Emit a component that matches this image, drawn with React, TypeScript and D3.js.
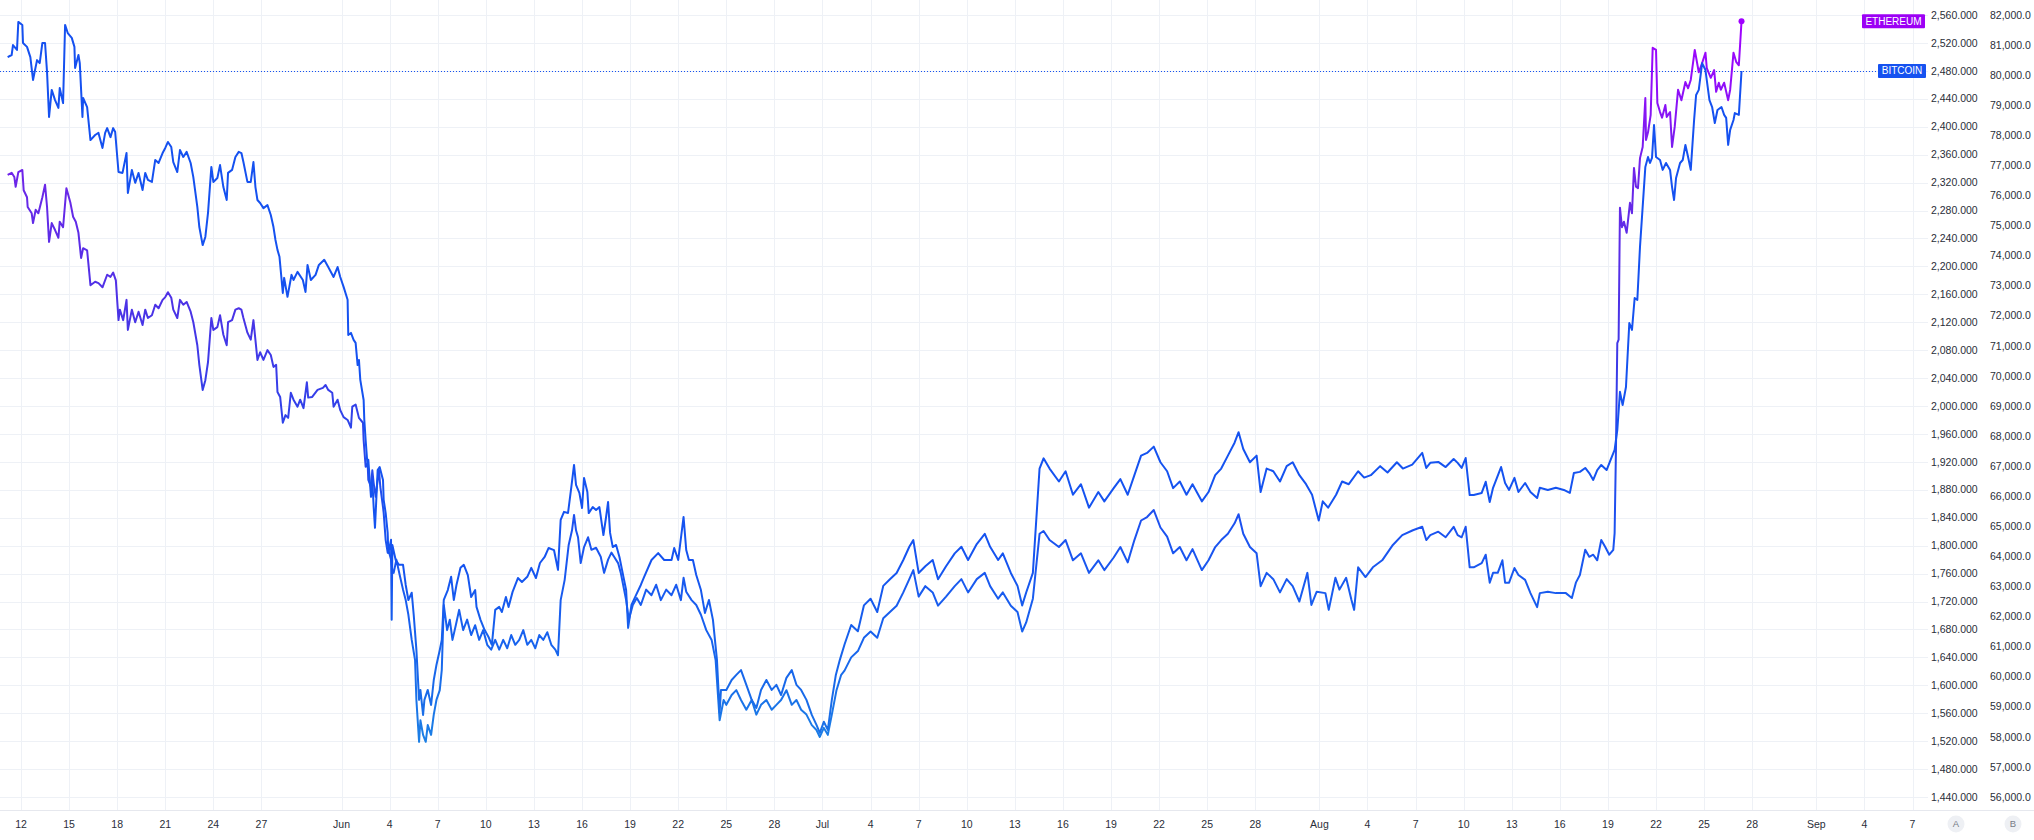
import React from "react";
import * as d3 from "d3";

const W = 2034;
const H = 840;
const START = Date.UTC(2024, 4, 12); // series times are hours from 12 May 00:00 UTC

// [hour offset, price]
const ETH: [number, number][] = [
[-20,2331],[-14,2334],[-10,2328],[-8,2314],[-4,2335],[2,2338],[4,2309],[9,2299],[10,2285],[16,2276],[18,2262],[22,2281],[26,2276],[32,2299],[36,2317],[39,2285],[42,2235],[46,2262],[51,2252],[56,2241],[58,2264],[63,2256],[68,2312],[74,2291],[78,2271],[82,2264],[86,2248],[90,2212],[93,2226],[99,2223],[104,2173],[111,2178],[116,2176],[122,2170],[129,2188],[134,2185],[138,2191],[142,2180],[146,2123],[148,2138],[153,2123],[158,2152],[160,2109],[166,2138],[171,2120],[176,2135],[182,2116],[186,2138],[190,2126],[196,2130],[201,2145],[206,2140],[212,2152],[216,2156],[220,2163],[225,2155],[228,2138],[234,2126],[238,2152],[243,2145],[248,2149],[254,2135],[258,2120],[264,2087],[267,2059],[272,2023],[276,2037],[280,2063],[285,2126],[288,2109],[294,2113],[298,2130],[303,2102],[308,2087],[310,2120],[316,2123],[321,2138],[326,2140],[330,2138],[333,2126],[339,2105],[344,2095],[348,2123],[354,2066],[358,2077],[363,2066],[369,2080],[374,2073],[378,2056],[382,2059],[384,2020],[388,2013],[392,1976],[396,1987],[400,1983],[404,2019],[408,2009],[414,1999],[418,2009],[423,1997],[428,2034],[430,2012],[436,2013],[444,2023],[452,2026],[456,2030],[460,2023],[466,2019],[468,1999],[474,2009],[478,1994],[483,1984],[489,1980],[494,1969],[496,1999],[501,2002],[506,1983],[512,1976],[513,1951],[516,1913],[519,1918],[520,1894],[524,1884],[526,1908],[528,1890],[531,1870],[534,1894],[536,1908],[538,1884],[542,1855],[543,1847],[546,1808],[549,1790],[550,1794],[554,1780],[556,1765],[558,1761],[562,1780],[567,1758],[572,1737],[576,1722],[580,1701],[585,1665],[590,1636],[592,1579],[596,1519],[598,1550],[602,1529],[606,1519],[609,1543],[614,1529],[618,1558],[622,1579],[627,1593],[630,1622],[633,1715],[638,1679],[642,1694],[646,1665],[651,1686],[656,1708],[662,1679],[668,1694],[674,1672],[680,1686],[686,1665],[692,1679],[698,1658],[704,1651],[710,1665],[716,1651],[722,1665],[728,1653],[734,1672],[740,1658],[746,1665],[752,1679],[758,1658],[764,1665],[770,1653],[776,1672],[782,1665],[788,1676],[794,1658],[800,1651],[804,1643],[808,1722],[814,1751],[820,1801],[825,1822],[828,1844],[831,1822],[834,1812],[838,1775],[843,1798],[849,1812],[854,1794],[861,1797],[868,1784],[873,1761],[879,1780],[884,1790],[888,1784],[894,1775],[898,1761],[906,1722],[910,1694],[916,1715],[922,1725],[928,1715],[936,1737],[944,1729],[951,1744],[958,1722],[966,1737],[974,1729],[981,1744],[988,1722],[992,1754],[996,1734],[1004,1722],[1011,1715],[1018,1701],[1026,1679],[1034,1665],[1040,1636],[1046,1550],[1052,1579],[1056,1572],[1064,1586],[1071,1593],[1078,1579],[1086,1565],[1094,1579],[1101,1558],[1108,1572],[1116,1579],[1124,1565],[1131,1572],[1138,1579],[1146,1593],[1154,1572],[1161,1579],[1168,1565],[1176,1558],[1184,1543],[1191,1536],[1196,1526],[1202,1539],[1208,1529],[1214,1558],[1221,1593],[1228,1615],[1233,1621],[1243,1640],[1253,1649],[1262,1668],[1272,1677],[1282,1668],[1291,1696],[1301,1705],[1311,1714],[1321,1733],[1330,1752],[1336,1765],[1344,1727],[1354,1742],[1365,1733],[1373,1714],[1385,1727],[1398,1742],[1408,1752],[1418,1733],[1431,1752],[1443,1761],[1451,1742],[1463,1724],[1470,1733],[1482,1714],[1492,1705],[1499,1677],[1505,1690],[1515,1724],[1525,1817],[1531,1821],[1540,1808],[1554,1798],[1564,1808],[1575,1779],[1587,1789],[1599,1761],[1613,1779],[1622,1765],[1636,1783],[1646,1798],[1657,1776],[1667,1808],[1677,1836],[1686,1841],[1696,1851],[1706,1826],[1716,1813],[1725,1789],[1735,1798],[1745,1779],[1754,1795],[1768,1765],[1778,1779],[1788,1798],[1797,1808],[1807,1817],[1817,1832],[1823,1845],[1830,1817],[1840,1798],[1850,1789],[1856,1742],[1865,1761],[1875,1752],[1885,1733],[1895,1752],[1904,1742],[1914,1720],[1926,1761],[1932,1715],[1940,1734],[1953,1732],[1958,1708],[1968,1754],[1974,1737],[1984,1754],[1992,1722],[1996,1708],[2002,1769],[2013,1755],[2024,1769],[2038,1779],[2054,1801],[2068,1815],[2084,1822],[2098,1827],[2104,1808],[2110,1815],[2122,1820],[2133,1812],[2145,1827],[2151,1815],[2157,1812],[2163,1827],[2169,1769],[2175,1769],[2187,1775],[2193,1787],[2199,1747],[2204,1761],[2211,1761],[2218,1779],[2222,1747],[2228,1747],[2236,1768],[2242,1758],[2252,1751],[2260,1732],[2270,1712],[2274,1732],[2286,1734],[2298,1732],[2313,1732],[2322,1725],[2328,1747],[2334,1758],[2342,1794],[2348,1784],[2354,1787],[2360,1779],[2366,1808],[2372,1798],[2378,1787],[2384,1794],[2386,1818],[2388,1937],[2390,2090],[2392,2095],[2394,2284],[2397,2256],[2400,2264],[2404,2248],[2409,2291],[2412,2276],[2415,2341],[2418,2314],[2421,2312],[2424,2355],[2428,2371],[2432,2441],[2433,2381],[2436,2392],[2440,2417],[2443,2513],[2448,2510],[2450,2434],[2454,2421],[2457,2413],[2462,2431],[2464,2414],[2469,2421],[2472,2371],[2476,2400],[2481,2453],[2486,2438],[2492,2464],[2496,2455],[2500,2467],[2506,2510],[2512,2478],[2517,2491],[2522,2506],[2524,2484],[2530,2470],[2535,2481],[2538,2450],[2542,2463],[2545,2453],[2550,2463],[2556,2438],[2559,2453],[2564,2506],[2568,2493],[2572,2488],[2576,2551]
];

const BTC: [number, number][] = [
[-20,80600],[-14,80670],[-12,81000],[-6,80840],[-4,81770],[2,81670],[3,81070],[9,80940],[14,80600],[18,79840],[24,80500],[28,80400],[32,81070],[36,81070],[39,80100],[42,78610],[46,79510],[51,79170],[56,78910],[58,79570],[63,79070],[66,81670],[70,81400],[76,81240],[80,80940],[81,80240],[86,80670],[88,80400],[92,78610],[93,79240],[99,78940],[104,77840],[111,78010],[116,78080],[122,77580],[126,78080],[129,78240],[134,77940],[138,78240],[141,78110],[146,76780],[152,76750],[158,77410],[160,76080],[166,76850],[171,76420],[176,76750],[182,76180],[186,76750],[190,76520],[196,76450],[201,77180],[206,77080],[212,77410],[216,77580],[220,77780],[225,77610],[228,77110],[234,76780],[238,77510],[243,77280],[248,77450],[254,77080],[258,76610],[264,75620],[267,74950],[272,74350],[276,74620],[280,75420],[285,76950],[288,76450],[294,76580],[298,77010],[303,76280],[308,75850],[310,76750],[316,76850],[321,77280],[326,77450],[330,77410],[333,77110],[339,76450],[344,76450],[348,77110],[351,76280],[354,75850],[358,75750],[363,75580],[369,75680],[374,75350],[378,74950],[381,74520],[384,74190],[387,73960],[392,72760],[394,73260],[399,72630],[405,73360],[408,73190],[414,73460],[422,73190],[426,72790],[429,73690],[434,73190],[441,73360],[446,73690],[454,73860],[460,73620],[468,73290],[474,73620],[478,73290],[483,72960],[489,72530],[490,71360],[494,71430],[498,71200],[501,71100],[504,70360],[506,70530],[508,69870],[513,69200],[514,68540],[516,67870],[519,66970],[520,67210],[524,65980],[526,66540],[528,65640],[530,64950],[534,66870],[537,66970],[542,66540],[543,65880],[546,65440],[549,64780],[550,64110],[554,64550],[555,61890],[556,64380],[561,63880],[566,63720],[572,63720],[576,63050],[580,62550],[585,62790],[588,62050],[592,60890],[596,59230],[598,59560],[602,58730],[604,59230],[609,59560],[614,59060],[618,59890],[622,60390],[627,60890],[630,61220],[633,62550],[639,62880],[644,63320],[648,62550],[652,63050],[658,63620],[663,63720],[669,63380],[674,62650],[680,62880],[682,62320],[688,61890],[694,61560],[700,61320],[705,61060],[710,62220],[716,62320],[720,62150],[726,62650],[730,62320],[736,62820],[744,63280],[750,63150],[758,63320],[764,63620],[771,63280],[777,63780],[784,63980],[790,64280],[798,64210],[804,63550],[808,65210],[813,65480],[819,65440],[824,66310],[828,67040],[831,66380],[836,66110],[840,65610],[843,66610],[848,66140],[850,65440],[856,65640],[861,65540],[866,65640],[872,64710],[876,65310],[879,65810],[882,64780],[886,64310],[891,64380],[896,63980],[902,63320],[906,62880],[909,61620],[914,62390],[921,62720],[928,63050],[933,63320],[944,63880],[954,64110],[963,63880],[974,63880],[978,64280],[984,63880],[992,65310],[996,64210],[1000,63880],[1006,63880],[1011,63380],[1018,62880],[1024,62120],[1030,62550],[1036,61890],[1042,60560],[1046,58800],[1048,59560],[1056,59560],[1064,59890],[1071,60060],[1078,60220],[1086,59730],[1094,59230],[1101,58960],[1108,59560],[1116,59890],[1124,59560],[1131,59730],[1138,59390],[1146,59960],[1154,60220],[1161,59730],[1168,59560],[1176,59230],[1184,58730],[1191,58400],[1196,58130],[1202,58500],[1208,58230],[1214,59230],[1220,60060],[1226,60560],[1233,61070],[1243,61720],[1253,61510],[1262,62370],[1272,62590],[1282,62150],[1291,63020],[1301,63240],[1311,63450],[1321,63880],[1330,64320],[1336,64540],[1344,63450],[1354,63670],[1365,63880],[1373,63240],[1385,63670],[1398,64100],[1408,64320],[1418,63880],[1431,64410],[1443,64750],[1451,64320],[1463,63880],[1470,64100],[1482,63450],[1492,63020],[1499,62370],[1505,62800],[1515,63450],[1525,66920],[1531,67260],[1540,66920],[1554,66490],[1564,66830],[1575,66050],[1587,66400],[1599,65620],[1613,66140],[1622,65830],[1636,66270],[1646,66570],[1657,66050],[1667,66700],[1677,67350],[1686,67440],[1696,67650],[1706,67130],[1716,66830],[1725,66270],[1735,66490],[1745,66050],[1754,66400],[1768,65830],[1778,66140],[1788,66700],[1797,66920],[1807,67350],[1817,67780],[1823,68130],[1830,67570],[1840,67130],[1850,67350],[1856,66140],[1865,66920],[1875,66830],[1885,66490],[1895,67000],[1904,67130],[1914,66700],[1924,66400],[1933,66050],[1943,65190],[1949,65830],[1957,65620],[1969,66050],[1978,66490],[1988,66400],[2002,66830],[2011,66620],[2021,66700],[2035,67000],[2046,66790],[2060,67130],[2069,66920],[2083,67050],[2098,67440],[2104,66940],[2110,67110],[2122,67140],[2133,66970],[2145,67240],[2151,67110],[2157,66940],[2163,67270],[2169,66040],[2175,66040],[2187,66110],[2193,66480],[2199,65810],[2204,66280],[2216,66970],[2222,66440],[2228,66210],[2236,66610],[2242,66140],[2252,66440],[2260,66140],[2270,65940],[2274,66280],[2286,66210],[2298,66280],[2310,66210],[2319,66110],[2325,66770],[2334,66810],[2342,66940],[2348,66770],[2354,66540],[2360,66870],[2366,67040],[2374,66870],[2380,67210],[2386,67540],[2390,68200],[2394,69470],[2398,69030],[2403,69630],[2408,71760],[2412,71530],[2416,72590],[2420,72530],[2424,74290],[2427,75290],[2432,76950],[2436,77280],[2439,77080],[2442,77250],[2445,78340],[2448,77280],[2454,77180],[2458,76850],[2463,77080],[2469,76850],[2472,76280],[2475,75850],[2478,76580],[2484,77080],[2488,77180],[2492,77680],[2496,77280],[2500,76850],[2505,78510],[2508,79340],[2512,79510],[2517,80400],[2522,80170],[2528,79170],[2532,78940],[2536,78410],[2540,78840],[2546,78940],[2550,78680],[2553,78580],[2556,77680],[2559,78180],[2564,78510],[2566,78740],[2572,78680],[2576,80140]
];

const ETH_TICKS = [1440,1480,1520,1560,1600,1640,1680,1720,1760,1800,1840,1880,1920,1960,2000,2040,2080,2120,2160,2200,2240,2280,2320,2360,2400,2440,2480,2520,2560];
const BTC_TICKS = [56000,57000,58000,59000,60000,61000,62000,63000,64000,65000,66000,67000,68000,69000,70000,71000,72000,73000,74000,75000,76000,77000,78000,79000,80000,81000,82000];
const X_TICKS = [
"2024-05-12","2024-05-15","2024-05-18","2024-05-21","2024-05-24","2024-05-27",
"2024-06-01","2024-06-04","2024-06-07","2024-06-10","2024-06-13","2024-06-16","2024-06-19","2024-06-22","2024-06-25","2024-06-28",
"2024-07-01","2024-07-04","2024-07-07","2024-07-10","2024-07-13","2024-07-16","2024-07-19","2024-07-22","2024-07-25","2024-07-28",
"2024-08-01","2024-08-04","2024-08-07","2024-08-10","2024-08-13","2024-08-16","2024-08-19","2024-08-22","2024-08-25","2024-08-28",
"2024-09-01","2024-09-04","2024-09-07"
];

const PLOT_RIGHT = 1928;
const PLOT_BOTTOM = 810;
const FONT = "'Liberation Sans', Arial, sans-serif";

export default function App() {
  const x = d3
    .scaleUtc()
    .domain([new Date(Date.UTC(2024, 4, 12)), new Date(Date.UTC(2024, 8, 7))])
    .range([21, 1912.5]);
  const yEth = d3.scaleLinear().domain([1440, 2560]).range([797, 15]);
  const yBtc = d3.scaleLinear().domain([56000, 82000]).range([797, 15]);
  const t = (h: number) => new Date(START + h * 3600000);

  const ethLine = d3
    .line<[number, number]>()
    .x((d) => x(t(d[0])))
    .y((d) => yEth(d[1]));
  const btcLine = d3
    .line<[number, number]>()
    .x((d) => x(t(d[0])))
    .y((d) => yBtc(d[1]));

  const fmtA = d3.format(",.3f");
  const fmtB = d3.format(",.1f");
  const monthFmt = d3.utcFormat("%b");

  const ethLast = ETH[ETH.length - 1];
  const btcLast = BTC[BTC.length - 1];
  const ethLastY = yEth(ethLast[1]);
  const btcLastY = yBtc(btcLast[1]);

  return (
    <svg
      width={W}
      height={H}
      style={{ position: "absolute", left: 0, top: 0, background: "#fff" }}
      fontFamily={FONT}
    >
      <defs>
        <linearGradient id="ethGrad" gradientUnits="userSpaceOnUse" x1="0" y1="15" x2="0" y2="797">
          <stop offset="0" stopColor="#a300ff" />
          <stop offset="0.1" stopColor="#8e0ff8" />
          <stop offset="0.22" stopColor="#6a27e8" />
          <stop offset="0.38" stopColor="#4a33e6" />
          <stop offset="0.52" stopColor="#2e43ea" />
          <stop offset="0.66" stopColor="#1b52f0" />
          <stop offset="0.8" stopColor="#1762ee" />
          <stop offset="1" stopColor="#1e8fe0" />
        </linearGradient>
        <linearGradient id="btcGrad" gradientUnits="userSpaceOnUse" x1="0" y1="15" x2="0" y2="797">
          <stop offset="0" stopColor="#1550f0" />
          <stop offset="0.7" stopColor="#1553f0" />
          <stop offset="1" stopColor="#1b7ce4" />
        </linearGradient>
      </defs>

      {/* grid */}
      <g stroke="#eef1f6" strokeWidth={1}>
        {ETH_TICKS.map((v) => (
          <line key={"h" + v} x1={0} x2={PLOT_RIGHT} y1={Math.round(yEth(v)) + 0.5} y2={Math.round(yEth(v)) + 0.5} />
        ))}
        {X_TICKS.map((s) => {
          const xx = Math.round(x(new Date(s + "T00:00:00Z"))) + 0.5;
          return <line key={"v" + s} x1={xx} x2={xx} y1={0} y2={PLOT_BOTTOM} />;
        })}
      </g>
      <line x1={0} x2={W} y1={PLOT_BOTTOM + 0.5} y2={PLOT_BOTTOM + 0.5} stroke="#e6e8ee" />

      {/* BTC price line */}
      <line
        x1={0}
        x2={PLOT_RIGHT - 2}
        y1={Math.round(btcLastY) + 0.5}
        y2={Math.round(btcLastY) + 0.5}
        stroke="#1652f0"
        strokeWidth={1}
        strokeDasharray="1 2"
      />

      {/* series */}
      <path d={ethLine(ETH) ?? ""} fill="none" stroke="url(#ethGrad)" strokeWidth={2} strokeLinejoin="round" />
      <path d={btcLine(BTC) ?? ""} fill="none" stroke="url(#btcGrad)" strokeWidth={2} strokeLinejoin="round" />
      <circle cx={x(t(ethLast[0]))} cy={ethLastY} r={3} fill="#a000ff" />

      {/* series labels */}
      <g fontSize={10} fill="#fff">
        <rect x={1862} y={ethLastY - 7} width={63} height={14} fill="#9c00f5" rx={1} />
        <text x={1893.5} y={ethLastY} dy="0.35em" textAnchor="middle">ETHEREUM</text>
        <rect x={1878} y={btcLastY - 7} width={48} height={14} fill="#1652f0" rx={1} />
        <text x={1902} y={btcLastY} dy="0.35em" textAnchor="middle">BITCOIN</text>
      </g>

      {/* price scale A */}
      <g fontSize={10.5} fill="#2a2e39">
        {ETH_TICKS.map((v) => (
          <text key={"a" + v} x={1931} y={yEth(v)} dy="0.35em">{fmtA(v)}</text>
        ))}
      </g>
      {/* price scale B */}
      <g fontSize={10.5} fill="#2a2e39">
        {BTC_TICKS.map((v) => (
          <text key={"b" + v} x={1990} y={yBtc(v)} dy="0.35em">{fmtB(v)}</text>
        ))}
      </g>

      {/* time axis */}
      <g fontSize={10.5} fill="#2a2e39" textAnchor="middle">
        {X_TICKS.map((s) => {
          const dt = new Date(s + "T00:00:00Z");
          const label = dt.getUTCDate() === 1 ? monthFmt(dt) : String(dt.getUTCDate());
          return (
            <text key={"x" + s} x={x(dt)} y={824} dy="0.35em">{label}</text>
          );
        })}
      </g>

      {/* scale buttons */}
      <g fontSize={9.5} textAnchor="middle">
        <circle cx={1956} cy={824} r={8.5} fill="#eef0f4" />
        <text x={1956} y={824} dy="0.35em" fill="#787b86">A</text>
        <circle cx={2013} cy={824} r={8.5} fill="#eef0f4" />
        <text x={2013} y={824} dy="0.35em" fill="#787b86">B</text>
      </g>
    </svg>
  );
}
